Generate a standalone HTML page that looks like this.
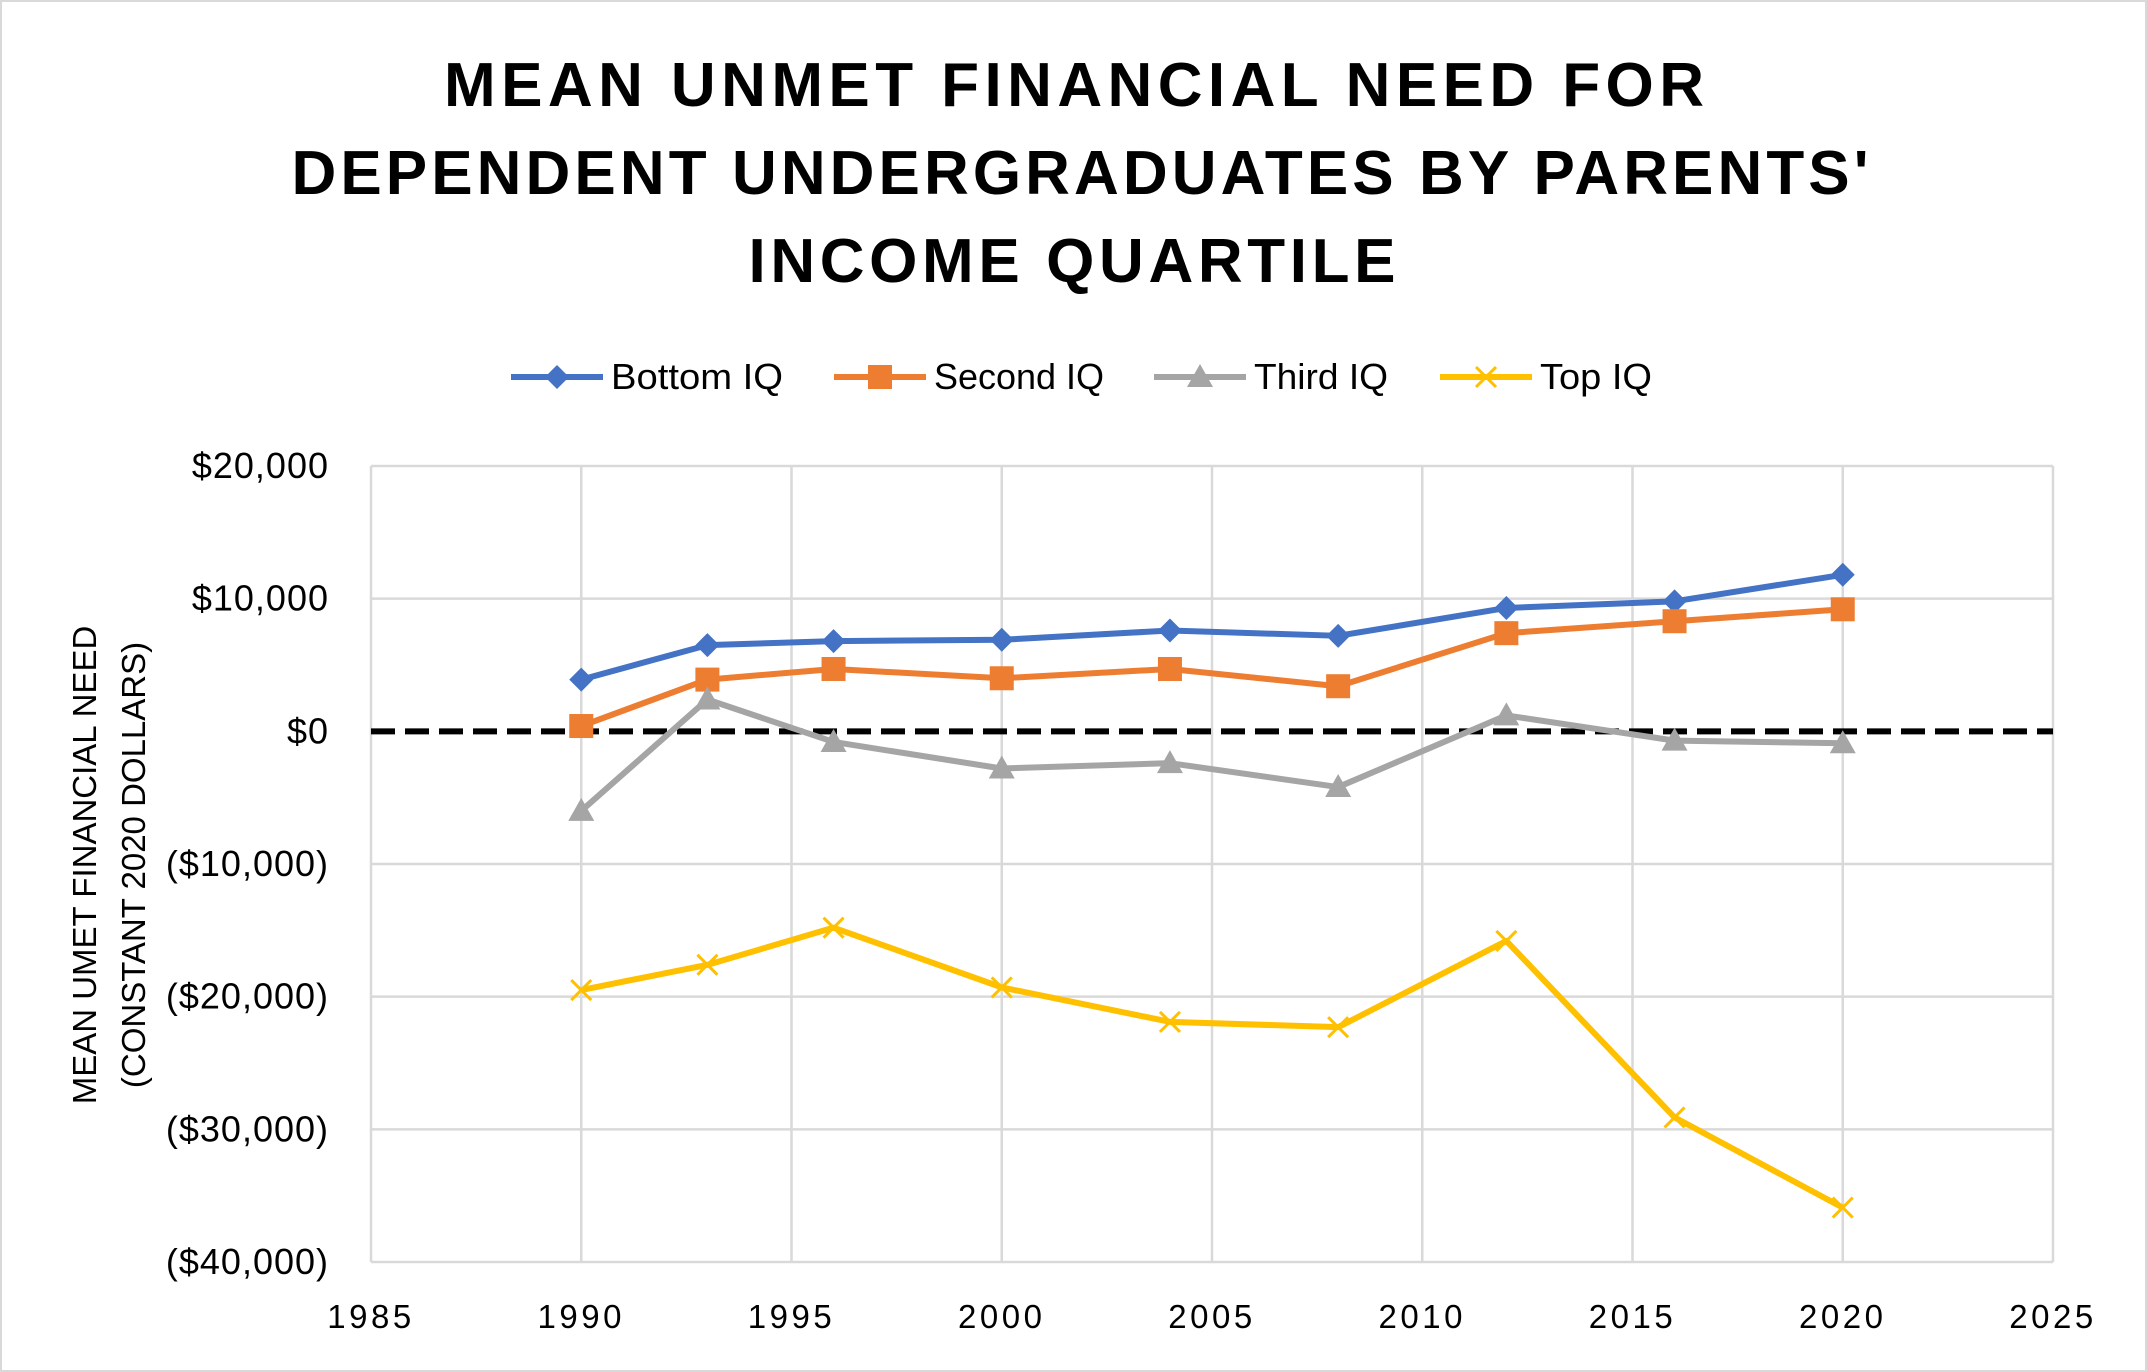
<!DOCTYPE html>
<html><head><meta charset="utf-8"><style>
html,body{margin:0;padding:0;background:#fff;}
svg{display:block;font-family:"Liberation Sans",sans-serif;}
</style></head><body>
<svg id="chart" width="2147" height="1372" viewBox="0 0 2147 1372">
<rect x="1" y="1" width="2145" height="1370" fill="#fff" stroke="#d9d9d9" stroke-width="2"/>
<g font-weight="bold" font-size="62" fill="#000" text-anchor="middle">
<text x="1074" y="106" textLength="1260" lengthAdjust="spacing">MEAN UNMET FINANCIAL NEED FOR</text>
<text x="1080" y="194" textLength="1577" lengthAdjust="spacing">DEPENDENT UNDERGRADUATES BY PARENTS'</text>
<text x="1072" y="282" textLength="647" lengthAdjust="spacing">INCOME QUARTILE</text>
</g>
<g id="grid"></g>
<g id="axes"></g>
<g id="series"></g>
<g id="legend"></g>
<g font-size="33" fill="#000" text-anchor="middle">
<text transform="translate(96,865) rotate(-90)">MEAN UMET FINANCIAL NEED</text>
<text transform="translate(145,865) rotate(-90)">(CONSTANT 2020 DOLLARS)</text>
</g>
</svg>
<script>
const years=[1990,1993,1996,2000,2004,2008,2012,2016,2020];
const bottomIQ=[3900,6500,6800,6900,7600,7200,9300,9800,11800];
const secondIQ=[400,3900,4700,4000,4700,3400,7400,8300,9200];
const thirdIQ=[-6000,2400,-800,-2800,-2400,-4200,1200,-700,-900];
const topIQ=[-19500,-17600,-14800,-19300,-21900,-22300,-15800,-29100,-35900];
const xTicks=[1985,1990,1995,2000,2005,2010,2015,2020,2025];
const yTicks=[20000,10000,0,-10000,-20000,-30000,-40000];
const yTickLabels=["$20,000","$10,000","$0","($10,000)","($20,000)","($30,000)","($40,000)"];
const seriesNames=["Bottom IQ","Second IQ","Third IQ","Top IQ"];

const NS="http://www.w3.org/2000/svg";
const L=371,R=2053,T=466,B=1262;
const X=v=>L+(v-1985)/40*(R-L);
const Y=v=>T+(20000-v)/60000*(B-T);
function mk(tag,attrs,parent){const e=document.createElementNS(NS,tag);for(const k in attrs)e.setAttribute(k,attrs[k]);parent.appendChild(e);return e;}
const grid=document.getElementById('grid'),axes=document.getElementById('axes'),ser=document.getElementById('series'),leg=document.getElementById('legend');
yTicks.forEach((v,i)=>{
 if(v!==0){const g=mk('line',{x1:L,x2:R,y1:Y(v),y2:Y(v),stroke:'#d9d9d9','stroke-width':2.5},grid);
 
 }
 const t=mk('text',{x:329,y:Y(v)+12,'text-anchor':'end','font-size':36,fill:'#000','letter-spacing':1},axes);t.textContent=yTickLabels[i];
 
 
});
xTicks.forEach(v=>{
 const g=mk('line',{x1:X(v),x2:X(v),y1:T,y2:B,stroke:'#d9d9d9','stroke-width':2.5},grid);
 
 
 const t=mk('text',{x:X(v),y:1328,'text-anchor':'middle','font-size':33,fill:'#000','letter-spacing':3.5},axes);t.textContent=v;
 
 
});
const zl=mk('line',{x1:L,x2:R,y1:Y(0),y2:Y(0),stroke:'#000','stroke-width':6,'stroke-dasharray':'24 10'},axes);


function marker(type,x,y,c,p){
 let e;
 if(type==='diamond')e=mk('polygon',{points:`${x},${y-12} ${x+12},${y} ${x},${y+12} ${x-12},${y}`,fill:c},p);
 else if(type==='square')e=mk('rect',{x:x-12,y:y-12,width:24,height:24,fill:c},p);
 else if(type==='triangle')e=mk('polygon',{points:`${x},${y-13} ${x+13},${y+10} ${x-13},${y+10}`,fill:c},p);
 else e=mk('path',{d:`M${x-10},${y-10}L${x+10},${y+10}M${x+10},${y-10}L${x-10},${y+10}`,stroke:c,'stroke-width':3,fill:'none'},p);
 return e;
}
const sdefs=[[bottomIQ,'#4472c4','diamond'],[secondIQ,'#ed7d31','square'],[thirdIQ,'#a5a5a5','triangle'],[topIQ,'#ffc000','x']];
const legTextW=[172,170,134,112];
sdefs.forEach(([vals,c,m],si)=>{
 const pts=years.map((y,i)=>X(y)+','+Y(vals[i])).join(' ');
 const pl=mk('polyline',{points:pts,fill:'none',stroke:c,'stroke-width':6,'stroke-linejoin':'round'},ser);
 
 
 years.forEach((y,i)=>{const e=marker(m,X(y),Y(vals[i]),c,ser);
 
 });
 const lx=[511,834,1154,1440][si];
 const ll=mk('line',{x1:lx,x2:lx+92,y1:377,y2:377,stroke:c,'stroke-width':6},leg);
 
 
 const lm=marker(m,lx+46,377,c,leg);
 
 
 const lt=mk('text',{x:lx+100,y:389,'font-size':36,fill:'#000',textLength:legTextW[si],lengthAdjust:'spacingAndGlyphs'},leg);lt.textContent=seriesNames[si];
 
 
});
</script>
</body></html>
